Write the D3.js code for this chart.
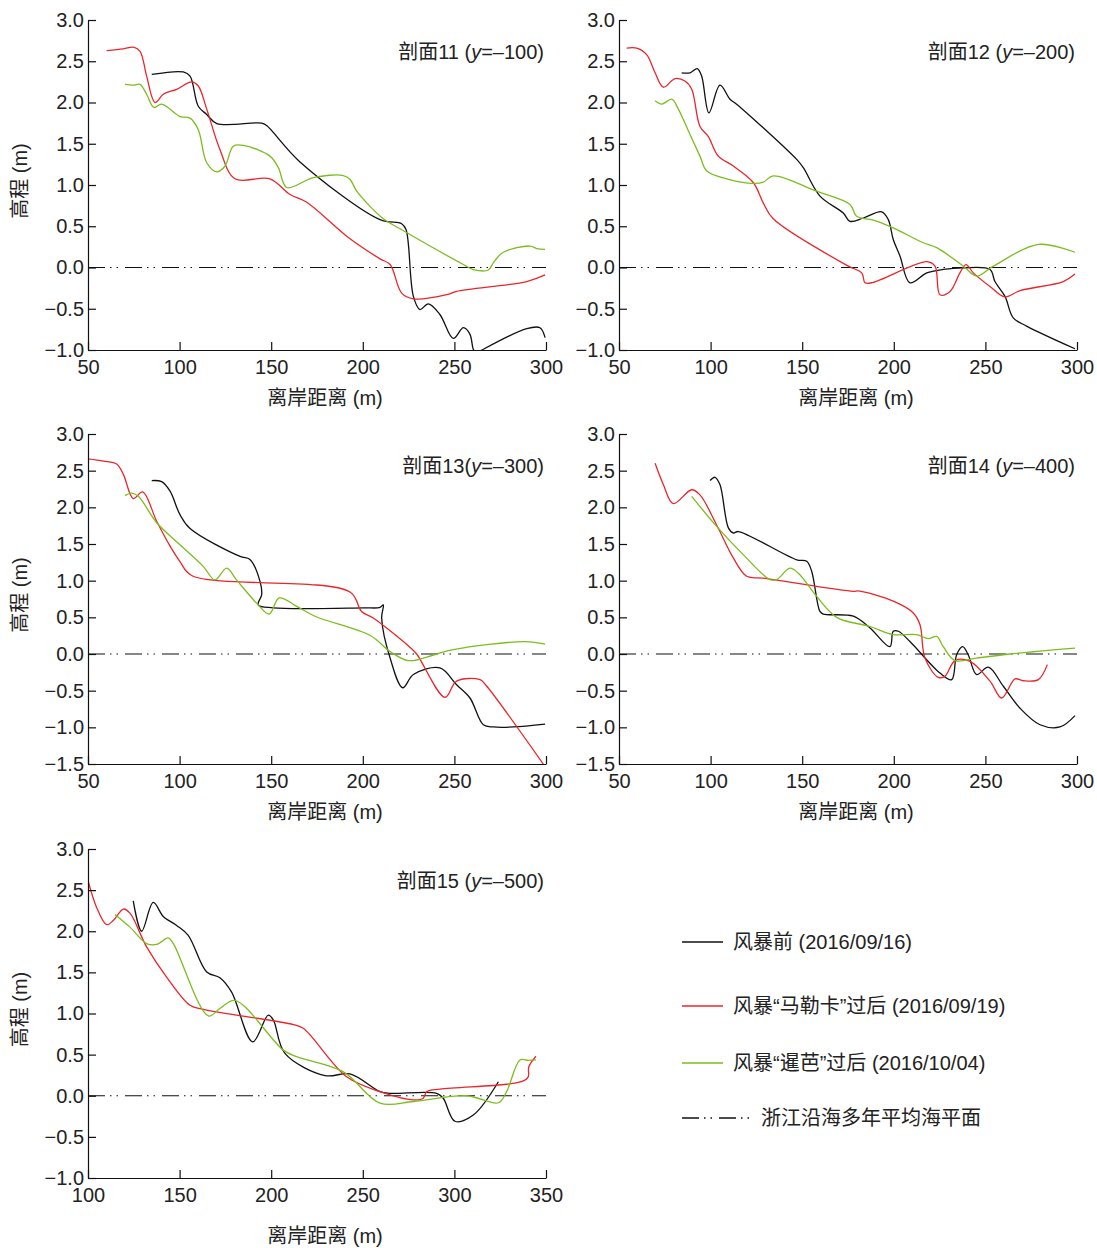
<!DOCTYPE html>
<html>
<head>
<meta charset="utf-8">
<script src="https://cdn.jsdelivr.net/npm/d3@7"></script>
<style>
  body { margin: 0; background: #fff; }
  svg text { font-family: "Liberation Sans", Arial, "Noto Sans CJK SC", sans-serif; fill: #222; }
</style>
</head>
<body>
<svg id="chart" width="1097" height="1248"></svg>
<script>
const width = 1097;
const height = 1248;

const COLOR_BEFORE = '#111';
const COLOR_MALAKAS = '#e8262b';
const COLOR_MEGI = '#7cbd1e';

// [distance (m), elevation (m)]
const p11Before = [[84.8,2.34],[102,2.37],[105.7,2.32],[110.2,1.955],[114.8,1.855],[120.3,1.745],[144.8,1.75],[147.5,1.72],[165.7,1.28],[209.4,0.58],[221.2,0.53],[223.6,0.46],[227.6,-0.35],[231.2,-0.51],[235.8,-0.44],[242.1,-0.57],[249.4,-0.86],[254.9,-0.73],[258.5,-0.81],[260.3,-0.99],[262,-1.04],[265,-1.0],[289.5,-0.74],[296.7,-0.73],[299.5,-0.85]];
const p11Malakas = [[60.2,2.63],[69.3,2.65],[74.7,2.67],[78.4,2.62],[82,2.32],[86.6,2.0],[91.1,2.1],[98.4,2.16],[106.6,2.25],[110.2,2.2],[114.8,1.92],[122,1.43],[130.2,1.075],[149.3,1.075],[160.3,0.885],[169.4,0.79],[191.2,0.38],[209.4,0.105],[214.9,0.036],[221.2,-0.31],[227.6,-0.38],[245.8,-0.33],[251.2,-0.29],[289.5,-0.17],[299.5,-0.09]];
const p11Megi = [[70.2,2.22],[74.7,2.21],[78.4,2.22],[82,2.1],[86,1.94],[90.2,1.98],[100.2,1.83],[105.7,1.81],[110.2,1.67],[114.8,1.27],[120.3,1.16],[124.8,1.23],[129.3,1.47],[134.8,1.48],[149.3,1.35],[153.9,1.21],[158.5,0.97],[173,1.09],[189.4,1.115],[193,1.07],[196.7,0.925],[211.2,0.59],[220.3,0.47],[254.9,0.036],[260.3,-0.025],[268.5,-0.03],[271.3,0.06],[276.7,0.185],[291.3,0.26],[295,0.23],[299.5,0.22]];

const p12Before = [[84.2,2.36],[88.8,2.36],[92.7,2.41],[95.1,2.32],[99.1,1.875],[105.1,2.21],[110.6,2.04],[114.2,1.98],[147,1.31],[150.6,1.21],[159.7,0.865],[172.4,0.66],[176.1,0.56],[183.4,0.6],[193.4,0.675],[197,0.58],[199.7,0.34],[203.4,0.137],[208.8,-0.185],[218,-0.065],[227,-0.024],[238,-0.004],[252.5,-0.024],[255.2,-0.17],[260.7,-0.35],[265.2,-0.61],[272.5,-0.71],[298.9,-0.985]];
const p12Malakas = [[54.2,2.66],[59.7,2.66],[65.1,2.58],[69.7,2.36],[74.2,2.185],[80.6,2.29],[86,2.26],[89.7,2.16],[94.2,1.71],[98.7,1.59],[104.2,1.35],[112.4,1.23],[123.3,1.03],[128.8,0.78],[134.2,0.59],[175.2,0.016],[182.5,-0.065],[184.3,-0.185],[188.8,-0.18],[218,0.07],[222.5,0.016],[225.2,-0.33],[230.7,-0.29],[236.1,-0.065],[239.4,0.036],[243.4,-0.065],[252.5,-0.23],[260.7,-0.355],[268.9,-0.28],[292.5,-0.17],[298.9,-0.08]];
const p12Megi = [[69.7,2.02],[73.3,1.98],[78.8,2.04],[82.4,1.92],[88.8,1.61],[94.2,1.35],[97.9,1.17],[108.8,1.075],[123.3,1.02],[128.8,1.035],[134.2,1.11],[157.9,0.925],[176.1,0.765],[179.7,0.62],[188.8,0.575],[199.7,0.48],[216.1,0.3],[223.4,0.24],[238,0.016],[245.2,-0.105],[254.3,0.016],[278.9,0.28],[298.9,0.185]];

const p13Before = [[84.8,2.365],[90.2,2.35],[94.8,2.22],[100.2,1.9],[105.7,1.71],[133,1.33],[138.4,1.29],[143.9,0.99],[144.8,0.81],[142.9,0.67],[151.1,0.63],[200.3,0.63],[209.4,0.635],[211.2,0.67],[210.3,0.49],[214.9,-0.055],[221.8,-0.46],[227.6,-0.28],[242.1,-0.19],[251.2,-0.42],[258.5,-0.6],[265.8,-0.965],[271.3,-0.995],[282.2,-0.995],[299.5,-0.955]];
const p13Malakas = [[50,2.66],[58.4,2.63],[65.6,2.59],[69.3,2.45],[74.7,2.12],[79.8,2.21],[87.5,1.81],[94.8,1.47],[100.2,1.26],[106.6,1.07],[193,0.845],[199.3,0.58],[205.7,0.49],[225.8,0.09],[229.4,0.0],[244.9,-0.59],[251.2,-0.37],[264,-0.35],[267,-0.42],[298.5,-1.5]];
const p13Megi = [[70.2,2.16],[73.8,2.195],[77.5,2.15],[87.5,1.79],[100.2,1.49],[112.9,1.195],[119.3,1.01],[125.7,1.17],[131.1,1.01],[142,0.695],[148.9,0.545],[154.4,0.765],[163.9,0.65],[173.9,0.515],[203.9,0.255],[214.9,0.035],[224.9,-0.09],[240.3,0.0],[249.4,0.06],[288.5,0.17],[299.5,0.135]];

const p14Before = [[99.7,2.365],[102.4,2.41],[105.1,2.31],[109.7,1.72],[112.4,1.65],[115.1,1.67],[147,1.285],[152.5,1.265],[155.2,1.125],[159.7,0.58],[161.5,0.545],[177.9,0.515],[187,0.355],[197.9,0.1],[199.7,0.31],[202.5,0.31],[208.8,0.17],[225.2,-0.26],[231.6,-0.35],[234.3,-0.01],[237.6,0.1],[240.6,-0.01],[245.2,-0.28],[251.6,-0.18],[259.8,-0.44],[268.9,-0.74],[279.8,-0.965],[290.7,-0.995],[298.9,-0.84]];
const p14Malakas = [[69.7,2.6],[74.2,2.31],[79.6,2.05],[89.7,2.24],[94.2,2.17],[103.3,1.76],[112.4,1.31],[119.7,1.06],[128.8,1.035],[177.9,0.855],[180.6,0.86],[199.7,0.72],[210.6,0.56],[214.3,0.4],[217,-0.055],[224.3,-0.32],[227.9,-0.305],[233.4,-0.09],[241.6,-0.1],[252.5,-0.37],[258.9,-0.6],[266.2,-0.34],[270.7,-0.365],[278.9,-0.35],[283.8,-0.145]];
const p14Megi = [[89.7,2.15],[103.3,1.74],[117.8,1.355],[132.4,1.015],[136.1,1.015],[143.3,1.17],[147.9,1.1],[157.9,0.785],[168.8,0.5],[187,0.375],[199.7,0.265],[212.5,0.265],[218.8,0.21],[223.4,0.24],[227,0.1],[233.4,-0.09],[245.2,-0.055],[263.4,0.0],[298.9,0.08]];

const p15Before = [[124.7,2.37],[129.3,2.0],[135.6,2.35],[141.1,2.18],[148.4,2.07],[154.7,1.95],[164.8,1.505],[172,1.435],[178.4,1.26],[189.9,0.655],[198.4,0.98],[201.2,0.92],[207.5,0.515],[229.4,0.245],[243,0.265],[259.4,0.05],[264.8,0.03],[290.3,0.03],[293.9,-0.03],[300.3,-0.31],[310.3,-0.235],[324,0.17]];
const p15Malakas = [[99.6,2.65],[104.7,2.29],[110.2,2.08],[113.8,2.13],[119.3,2.27],[122.9,2.22],[132,1.81],[143,1.44],[155.7,1.1],[162.9,1.05],[212.1,0.865],[217.5,0.82],[241.2,0.23],[259.4,0.05],[277.6,-0.05],[283,-0.03],[284.9,0.05],[292.1,0.08],[328.5,0.14],[337.6,0.18],[340.3,0.23],[340.6,0.35],[344.5,0.48]];
const p15Megi = [[114.7,2.205],[122.9,2.05],[132,1.85],[137.5,1.84],[143.8,1.92],[146.6,1.85],[165.7,0.97],[172,1.06],[180.2,1.16],[206.6,0.555],[213.9,0.475],[239.4,0.29],[259.4,-0.09],[277.6,-0.07],[306.7,0.0],[324,-0.085],[328.5,0.05],[335.8,0.435],[340.3,0.43],[344.5,0.435]];

const panels = [
  { name: '剖面11', sep: ' ', yLabel: '100', xDomain: [50, 300], yDomain: [-1, 3], xTicks: [50, 100, 150, 200, 250, 300], left: 88, top: 20, h: 330, yTitle: true, series: [p11Before, p11Malakas, p11Megi] },
  { name: '剖面12', sep: ' ', yLabel: '200', xDomain: [50, 300], yDomain: [-1, 3], xTicks: [50, 100, 150, 200, 250, 300], left: 619, top: 20, h: 330, yTitle: false, series: [p12Before, p12Malakas, p12Megi] },
  { name: '剖面13', sep: '', yLabel: '300', xDomain: [50, 300], yDomain: [-1.5, 3], xTicks: [50, 100, 150, 200, 250, 300], left: 88, top: 434, h: 330, yTitle: true, series: [p13Before, p13Malakas, p13Megi] },
  { name: '剖面14', sep: ' ', yLabel: '400', xDomain: [50, 300], yDomain: [-1.5, 3], xTicks: [50, 100, 150, 200, 250, 300], left: 619, top: 434, h: 330, yTitle: false, series: [p14Before, p14Malakas, p14Megi] },
  { name: '剖面15', sep: ' ', yLabel: '500', xDomain: [100, 350], yDomain: [-1, 3], xTicks: [100, 150, 200, 250, 300, 350], left: 88, top: 849, h: 329, yTitle: true, series: [p15Before, p15Malakas, p15Megi], titleGap: 65 },
];

const seriesColors = [COLOR_BEFORE, COLOR_MALAKAS, COLOR_MEGI];
const legendLabels = ['风暴前 (2016/09/16)', '风暴“马勒卡”过后 (2016/09/19)', '风暴“暹芭”过后 (2016/10/04)', '浙江沿海多年平均海平面'];

const PLOT_W = 458;
const FONT = 20;
const ZERO_DASH = '17,5,1.5,5,1.5,7';

const svg = d3.select('#chart');

panels.forEach((p, i) => {
  const x = d3.scaleLinear().domain(p.xDomain).range([0, PLOT_W]);
  const y = d3.scaleLinear().domain(p.yDomain).range([p.h, 0]);
  const g = svg.append('g').attr('transform', `translate(${p.left},${p.top})`);

  g.append('clipPath').attr('id', `clip${i}`)
    .append('rect').attr('x', 0).attr('y', 0).attr('width', PLOT_W).attr('height', p.h);

  // mean sea level
  g.append('line')
    .attr('x1', 0).attr('x2', PLOT_W)
    .attr('y1', y(0)).attr('y2', y(0))
    .attr('stroke', '#111').attr('stroke-width', 1.2)
    .attr('stroke-dasharray', ZERO_DASH);

  const line = d3.line()
    .x(d => x(d[0]))
    .y(d => y(d[1]))
    .curve(d3.curveCatmullRom.alpha(0.5));

  const lines = g.append('g').attr('clip-path', `url(#clip${i})`);
  p.series.forEach((s, j) => {
    lines.append('path')
      .datum(s)
      .attr('d', line)
      .attr('fill', 'none')
      .attr('stroke', seriesColors[j])
      .attr('stroke-width', 1.3);
  });

  const yTicks = d3.range(p.yDomain[0], p.yDomain[1] + 0.001, 0.5);
  const yAxis = g.append('g')
    .call(d3.axisLeft(y).tickValues(yTicks).tickSizeInner(-8).tickSizeOuter(0).tickPadding(4)
      .tickFormat(d => (d < 0 ? '\u2212' : '') + Math.abs(d).toFixed(1)));
  const xAxis = g.append('g').attr('transform', `translate(0,${p.h})`)
    .call(d3.axisBottom(x).tickValues(p.xTicks).tickSizeInner(-8).tickSizeOuter(0).tickPadding(10));

  [yAxis, xAxis].forEach(a => {
    a.select('.domain').attr('stroke', '#111').attr('stroke-width', 1.2);
    a.selectAll('.tick line').attr('stroke', '#111').attr('stroke-width', 1.2);
    a.selectAll('.tick text').attr('font-size', FONT).attr('fill', '#222')
      .style('font-family', '"Liberation Sans", Arial, sans-serif');
  });
  xAxis.selectAll('.tick text').attr('dy', '0.72em');

  // panel title
  const title = g.append('text')
    .attr('x', PLOT_W - 2).attr('y', 39)
    .attr('text-anchor', 'end').attr('font-size', FONT);
  title.append('tspan').text(p.name + p.sep + '(');
  title.append('tspan').attr('font-style', 'italic').text('y');
  title.append('tspan').text('=\u2013' + p.yLabel + ')');

  // axis titles
  g.append('text')
    .attr('x', 237).attr('y', p.h + (p.titleGap || 55))
    .attr('text-anchor', 'middle').attr('font-size', FONT)
    .text('离岸距离 (m)');
  if (p.yTitle) {
    g.append('text')
      .attr('transform', `translate(${-61},${p.h / 2 - 4}) rotate(-90)`)
      .attr('text-anchor', 'middle').attr('font-size', FONT)
      .text('高程 (m)');
  }
});

// legend
const legend = svg.append('g').attr('transform', 'translate(682,0)');
const legendY = [942, 1006, 1063, 1118];
legendLabels.forEach((label, i) => {
  const row = legend.append('g').attr('transform', `translate(0,${legendY[i]})`);
  if (i < 3) {
    row.append('line').attr('x1', 0).attr('x2', 41).attr('y1', 0).attr('y2', 0)
      .attr('stroke', seriesColors[i]).attr('stroke-width', 1.3);
    row.append('text').attr('x', 51).attr('y', 7).attr('font-size', FONT).text(label);
  } else {
    row.append('line').attr('x1', 0).attr('x2', 72).attr('y1', 0).attr('y2', 0)
      .attr('stroke', '#111').attr('stroke-width', 1.3)
      .attr('stroke-dasharray', ZERO_DASH);
    row.append('text').attr('x', 79).attr('y', 7).attr('font-size', FONT).text(label);
  }
});
</script>
</body>
</html>
